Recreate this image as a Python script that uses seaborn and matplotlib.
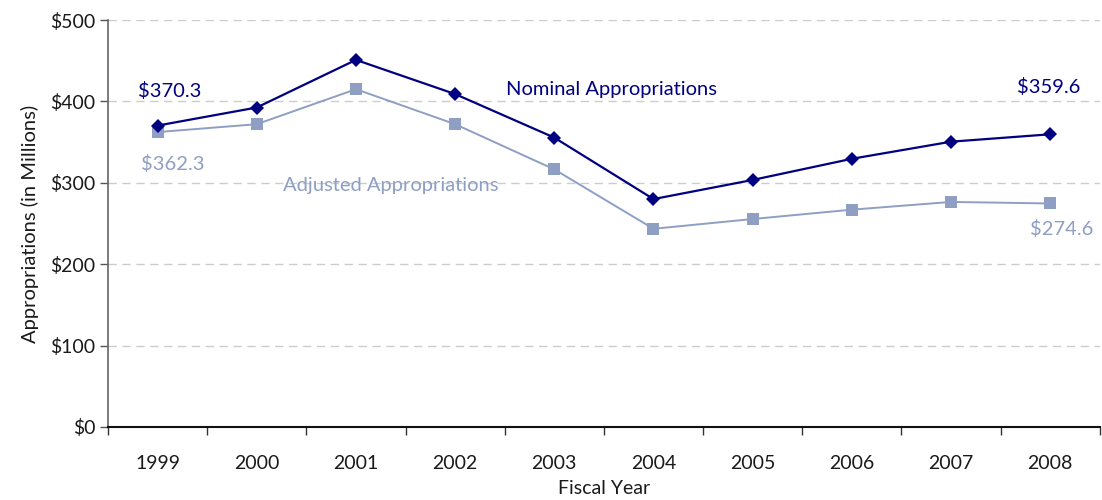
import numpy as np
import pandas as pd
import seaborn as sns
import matplotlib.pyplot as plt
from matplotlib.ticker import FixedLocator, FuncFormatter

years = ['1999', '2000', '2001', '2002', '2003', '2004', '2005', '2006', '2007', '2008']
nominal = [370.3, 392.5, 451.0, 409.0, 355.5, 280.0, 303.5, 329.5, 350.5, 359.6]
adjusted = [362.3, 372.0, 415.0, 372.0, 316.5, 243.5, 255.5, 267.0, 276.5, 274.6]
series_names = ['Nominal Appropriations', 'Adjusted Appropriations']

NAVY = '#000080'
LIGHT = '#8e9fc3'

df = pd.DataFrame({
    'idx': list(range(len(years))) * 2,
    'value': nominal + adjusted,
    'series': [series_names[0]] * len(years) + [series_names[1]] * len(years),
})

sns.set_style('white')
plt.rcParams['font.family'] = ['Lato', 'DejaVu Sans']

fig = plt.figure(figsize=(11.02, 5.0), dpi=100)
ax = fig.add_axes([0.098, 0.146, 0.9, 0.814])

# draw adjusted first so nominal sits on top
sns.lineplot(data=df[df.series == series_names[1]], x='idx', y='value', ax=ax,
             color=LIGHT, marker='s', markersize=8.5, markeredgewidth=0,
             linewidth=1.4, legend=False, zorder=3)
sns.lineplot(data=df[df.series == series_names[0]], x='idx', y='value', ax=ax,
             color=NAVY, marker='D', markersize=7, markeredgewidth=0,
             linewidth=1.6, legend=False, zorder=4)

ax.set_xlim(-0.5, len(years) - 0.5)
ax.set_ylim(0, 500)
ax.set_yticks(np.arange(0, 501, 100))
ax.yaxis.set_major_formatter(FuncFormatter(lambda v, p: f'${v:.0f}'))
ax.yaxis.grid(True, color='#cccccc', linestyle=(0, (6, 4)), linewidth=1)
ax.set_axisbelow(True)

# category boundaries as ticks, labels centred
ax.xaxis.set_major_locator(FixedLocator(np.arange(-0.5, len(years), 1.0)))
ax.xaxis.set_minor_locator(FixedLocator(np.arange(len(years))))
ax.set_xticklabels([''] * (len(years) + 1))
ax.set_xticklabels(years, minor=True)
ax.tick_params(axis='x', which='major', direction='out', length=6, width=1, color='#333333', bottom=True)
ax.tick_params(axis='x', which='minor', length=0, pad=20, labelsize=14, labelcolor='#1a1a1a')
ax.tick_params(axis='y', direction='out', length=6, width=1, color='#555555', left=True,
               labelsize=14, labelcolor='#1a1a1a', pad=3)

sns.despine(ax=ax, top=True, right=True)
ax.spines['left'].set_color('#666666')
ax.spines['left'].set_linewidth(1.2)
ax.spines['bottom'].set_color('#111111')
ax.spines['bottom'].set_linewidth(1.5)

ax.set_xlabel('Fiscal Year', fontsize=14, color='#1a1a1a', labelpad=6)
ax.set_ylabel('Appropriations (in Millions)', fontsize=14.5, color='#1a1a1a', labelpad=8)

ax.text(0.12, 413, f'${nominal[0]:.1f}', color=NAVY, fontsize=14.5, ha='center', va='center')
ax.text(8.98, 418, f'${nominal[-1]:.1f}', color=NAVY, fontsize=14.5, ha='center', va='center')
ax.text(0.15, 323, f'${adjusted[0]:.1f}', color=LIGHT, fontsize=14.5, ha='center', va='center')
ax.text(9.12, 243, f'${adjusted[-1]:.1f}', color=LIGHT, fontsize=14.5, ha='center', va='center')
ax.text(4.58, 415, series_names[0], color=NAVY, fontsize=14.5, ha='center', va='center')
ax.text(2.35, 297, series_names[1], color=LIGHT, fontsize=14.5, ha='center', va='center')

fig.savefig('out.png', dpi=100)
